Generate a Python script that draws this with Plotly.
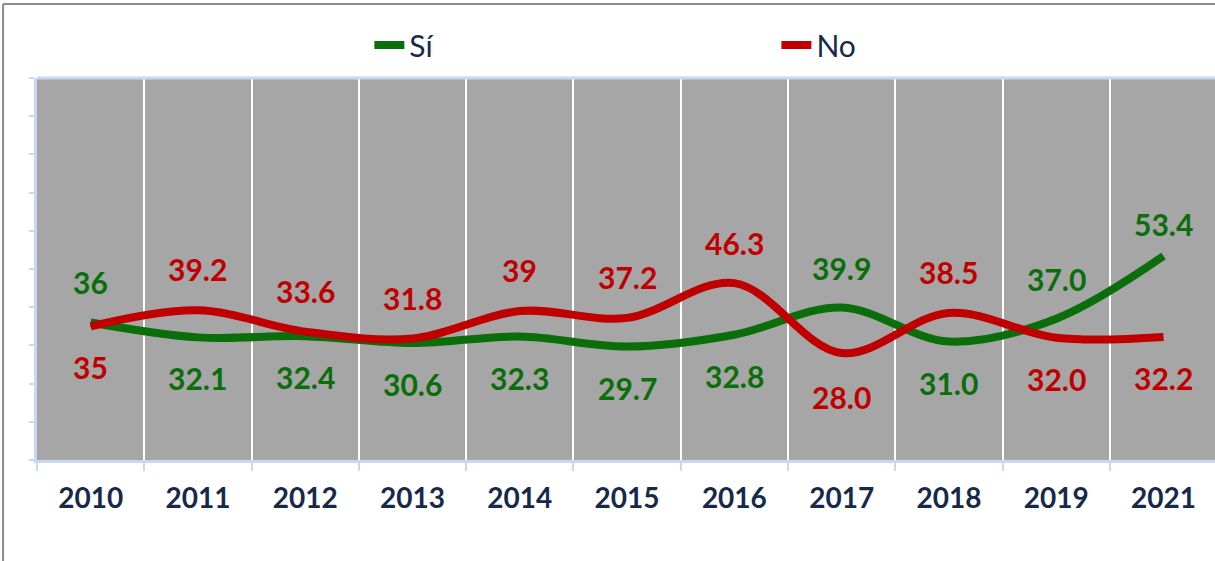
import plotly.graph_objects as go

years = ["2010", "2011", "2012", "2013", "2014", "2015", "2016", "2017", "2018", "2019", "2021"]
si_values = [36, 32.1, 32.4, 30.6, 32.3, 29.7, 32.8, 39.9, 31.0, 37.0, 53.4]
no_values = [35, 39.2, 33.6, 31.8, 39, 37.2, 46.3, 28.0, 38.5, 32.0, 32.2]
si_labels = ["36", "32.1", "32.4", "30.6", "32.3", "29.7", "32.8", "39.9", "31.0", "37.0", "53.4"]
no_labels = ["35", "39.2", "33.6", "31.8", "39", "37.2", "46.3", "28.0", "38.5", "32.0", "32.2"]

GREEN = "#0A6E0A"
RED = "#C00000"
NAVY = "#17294A"
FONT = "Lato"

# label offsets in pixels (style)
si_shift = [40, 41, 41, 41, 41, 41, 41, 40, 41, 40, 32]
no_shift = [41, 41, 41, 41, 41, 41, 40, 44, 41, 41, 41]

fig = go.Figure()
fig.add_trace(go.Scatter(x=years, y=si_values, name="Sí", mode="lines", legend="legend",
                         line=dict(color=GREEN, width=8, shape="spline", smoothing=1.0)))
fig.add_trace(go.Scatter(x=years, y=no_values, name="No", mode="lines", legend="legend2",
                         line=dict(color=RED, width=8, shape="spline", smoothing=1.0)))

annotations = []
for i, yr in enumerate(years):
    s, n = si_values[i], no_values[i]
    s_up = s >= n
    annotations.append(dict(x=i, y=s, xref="x", yref="y", text="<b>" + si_labels[i] + "</b>",
                            showarrow=False,
                            yshift=si_shift[i] if s_up else -si_shift[i],
                            font=dict(family=FONT, size=30, color=GREEN)))
    annotations.append(dict(x=i, y=n, xref="x", yref="y", text="<b>" + no_labels[i] + "</b>",
                            showarrow=False,
                            yshift=-no_shift[i] if s_up else no_shift[i],
                            font=dict(family=FONT, size=30, color=RED)))

legend_common = dict(orientation="h", xref="container", yref="container",
                     xanchor="left", yanchor="middle", y=0.92,
                     font=dict(family=FONT, size=30, color=NAVY), bgcolor="rgba(0,0,0,0)")

fig.update_layout(
    width=1215, height=561,
    margin=dict(l=37, r=0, t=78, b=101),
    paper_bgcolor="white",
    plot_bgcolor="#A6A6A6",
    font=dict(family=FONT, color=NAVY),
    annotations=annotations,
    showlegend=True,
    legend=dict(x=0.304, **legend_common),
    legend2=dict(x=0.639, **legend_common),
    xaxis=dict(type="category", range=[-0.5, 10.48], tickson="boundaries",
               showgrid=True, gridcolor="white", gridwidth=2,
               ticks="outside", ticklen=8, tickcolor="#C6D9F1", tickwidth=2,
               showline=True, linecolor="#C6D9F1", linewidth=3, mirror=False,
               ticklabelstandoff=11,
               tickfont=dict(family=FONT, size=28, color=NAVY, weight="bold"),
               zeroline=False),
    yaxis=dict(range=[0, 100], dtick=10, showgrid=False, showticklabels=False,
               ticks="outside", ticklen=5, tickcolor="#C6D9F1", tickwidth=2,
               showline=True, linecolor="#C6D9F1", linewidth=3, zeroline=False),
    shapes=[
        dict(type="line", xref="paper", yref="paper", x0=0, x1=1.01, y0=1, y1=1,
             line=dict(color="#C6D9F1", width=3), layer="above"),
        dict(type="line", xref="paper", yref="paper", x0=-0.0288, x1=-0.0288, y0=-0.4, y1=1.194,
             line=dict(color="#8C8C8C", width=2)),
        dict(type="line", xref="paper", yref="paper", x0=-0.0288, x1=1.05, y0=1.194, y1=1.194,
             line=dict(color="#8C8C8C", width=2)),
    ],
)

fig.write_html("out.html", config={"displayModeBar": False},
               post_script="document.body.style.margin='0';")
